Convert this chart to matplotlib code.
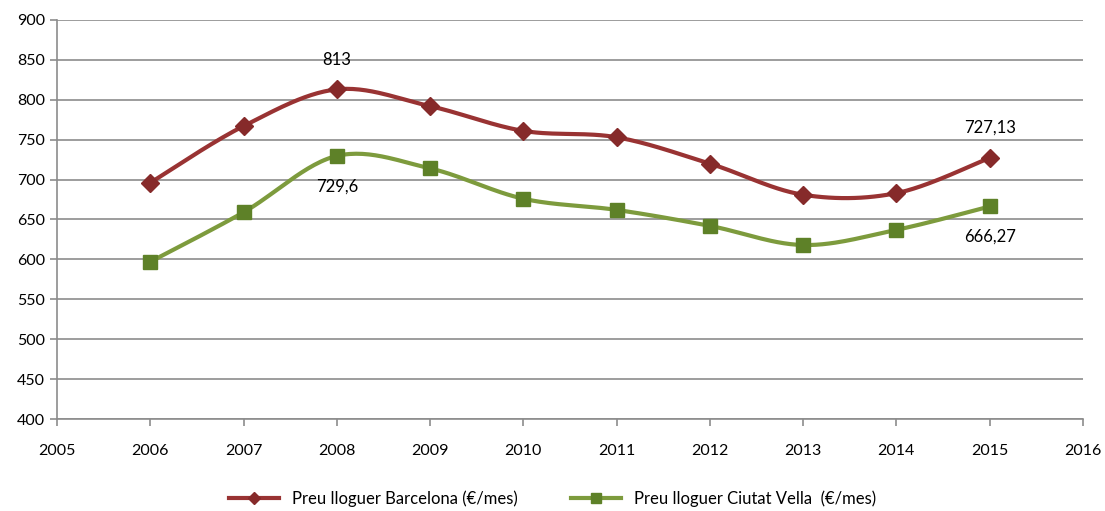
import numpy as np
import matplotlib.pyplot as plt

# Dades (llegides del gràfic)
anys = [2006, 2007, 2008, 2009, 2010, 2011, 2012, 2013, 2014, 2015]
preu_barcelona = [696, 767, 813, 792, 761, 753, 720, 681, 683, 727.13]
preu_ciutat_vella = [597, 659, 729.6, 714, 676, 662, 642, 618, 637, 666.27]
nom_barcelona = "Preu lloguer Barcelona (€/mes)"
nom_ciutat_vella = "Preu lloguer Ciutat Vella  (€/mes)"

plt.rcParams['font.family'] = ['Lato', 'DejaVu Sans']


def suavitzar(x, y, n=30):
    # corba tipus Excel (Bezier amb punts de control de Catmull-Rom)
    x = np.asarray(x, float)
    y = np.asarray(y, float)
    px = np.concatenate([[x[0]], x, [x[-1]]])
    py = np.concatenate([[y[0]], y, [y[-1]]])
    xs, ys = [], []
    t = np.linspace(0, 1, n)
    for i in range(1, len(px) - 2):
        p0 = np.array([px[i], py[i]])
        p3 = np.array([px[i + 1], py[i + 1]])
        c1 = p0 + (np.array([px[i + 1], py[i + 1]]) - np.array([px[i - 1], py[i - 1]])) / 6
        c2 = p3 - (np.array([px[i + 2], py[i + 2]]) - np.array([px[i], py[i]])) / 6
        b = ((1 - t) ** 3)[:, None] * p0 + (3 * (1 - t) ** 2 * t)[:, None] * c1 \
            + (3 * (1 - t) * t ** 2)[:, None] * c2 + (t ** 3)[:, None] * p3
        xs.extend(b[:, 0])
        ys.extend(b[:, 1])
    return xs, ys


fig = plt.figure(figsize=(11.05, 5.11), dpi=100)
ax = fig.add_axes([0.0516, 0.180, 0.9284, 0.781])

color_bcn = '#993333'
marker_bcn = '#862A2A'
color_cv = '#7D9B3D'
marker_cv = '#5E8128'

xs, ys = suavitzar(anys, preu_barcelona)
ax.plot(xs, ys, color=color_bcn, lw=3, zorder=3)
ax.plot(anys, preu_barcelona, ls='none', marker='D', ms=9, color=marker_bcn, zorder=4)
xs, ys = suavitzar(anys, preu_ciutat_vella)
ax.plot(xs, ys, color=color_cv, lw=3, zorder=3)
ax.plot(anys, preu_ciutat_vella, ls='none', marker='s', ms=10, color=marker_cv, zorder=4)

# entrades de la llegenda
ax.plot([], [], color=color_bcn, lw=3, marker='D', ms=6, mfc=marker_bcn, mec=marker_bcn, label=nom_barcelona)
ax.plot([], [], color=color_cv, lw=3, marker='s', ms=7, mfc=marker_cv, mec=marker_cv, label=nom_ciutat_vella)

# etiquetes de dades
def fmt(v):
    return f"{v:g}".replace('.', ',')

ax.annotate(fmt(preu_barcelona[2]), (anys[2], preu_barcelona[2]), xytext=(0, 21),
            textcoords='offset points', ha='center', va='center', fontsize=12)
ax.annotate(fmt(preu_ciutat_vella[2]), (anys[2], preu_ciutat_vella[2]), xytext=(0, -22),
            textcoords='offset points', ha='center', va='center', fontsize=12)
ax.annotate(fmt(preu_barcelona[-1]), (anys[-1], preu_barcelona[-1]), xytext=(0, 22),
            textcoords='offset points', ha='center', va='center', fontsize=12)
ax.annotate(fmt(preu_ciutat_vella[-1]), (anys[-1], preu_ciutat_vella[-1]), xytext=(0, -22),
            textcoords='offset points', ha='center', va='center', fontsize=12)

ax.set_xlim(2005, 2016)
ax.set_ylim(400, 900)
ax.set_xticks(range(2005, 2017))
ax.set_yticks(range(400, 901, 50))
ax.yaxis.grid(True, color='#8C8C8C', lw=1.2)
ax.set_axisbelow(True)
for s in ['top', 'right']:
    ax.spines[s].set_visible(False)
for s in ['left', 'bottom']:
    ax.spines[s].set_color('#8C8C8C')
    ax.spines[s].set_linewidth(1.2)
ax.tick_params(axis='both', colors='#8C8C8C', length=5, width=1.2, labelcolor='black', labelsize=11.5)
ax.tick_params(axis='x', pad=13)

fig.legend(loc='lower center', bbox_to_anchor=(0.5, -0.022), ncol=2, frameon=False,
           fontsize=12, handlelength=3, columnspacing=3.2)

plt.savefig('out.png', dpi=100)
plt.close()
